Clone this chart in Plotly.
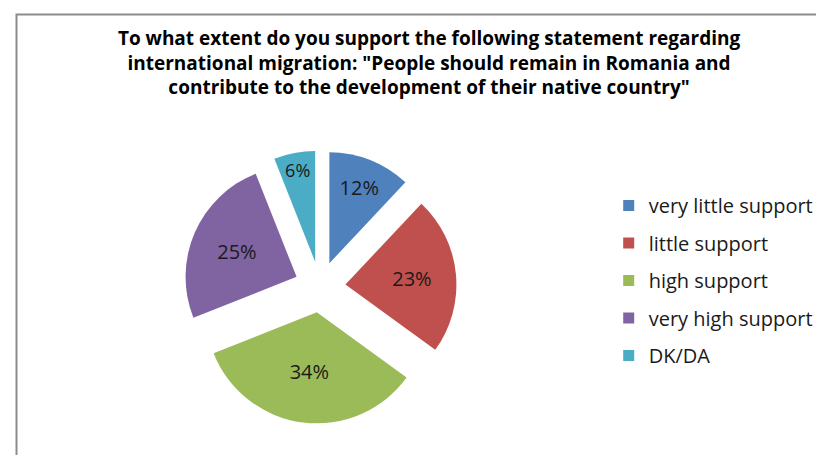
import plotly.graph_objects as go

labels = ["very little support", "little support", "high support", "very high support", "DK/DA"]
values = [12, 23, 34, 25, 6]
colors = ["#4F81BD", "#C0504D", "#9BBB59", "#8064A2", "#4BACC6"]
title_lines = [
    "To what extent do you support the following statement regarding",
    "international migration: \"People should remain in Romania and",
    "contribute to the development of their native country\"",
]

W, H = 824, 455
cx, cy, r, pull = 312, 279, 111, 0.23
half = r * (1 + pull)

fig = go.Figure()
fig.add_trace(go.Pie(
    labels=labels, values=values, sort=False, direction="clockwise", rotation=0,
    marker=dict(colors=colors, line=dict(width=0)),
    pull=[pull] * len(values),
    texttemplate="%{percent:.0%}", textposition="inside",
    insidetextorientation="horizontal",
    textfont=dict(family="Open Sans", size=20, color="#1a1a1a"),
    showlegend=False, hoverinfo="label+percent",
    domain=dict(x=[(cx - half) / W, (cx + half) / W], y=[1 - (cy + half) / H, 1 - (cy - half) / H]),
))
for i, (lab, col) in enumerate(zip(labels, colors)):
    fig.add_trace(go.Scatter(
        x=[None], y=[None], mode="markers", name=lab, legendgroup=str(i),
        marker=dict(symbol="square", size=11, color=col), showlegend=True,
    ))

fig.update_layout(
    width=W, height=H,
    margin=dict(l=0, r=0, t=0, b=0),
    paper_bgcolor="white", plot_bgcolor="white",
    xaxis=dict(visible=False), yaxis=dict(visible=False),
    title=dict(text="<br>".join(title_lines), x=0.511, xanchor="center", y=1 - 37 / H, yanchor="top",
               font=dict(family="Open Sans", size=19, color="#000000", weight="bold")),
    legend=dict(x=0.729, y=1 - 178 / H, xanchor="left", yanchor="top",
                font=dict(family="Open Sans", size=20, color="#1a1a1a"),
                tracegroupgap=8.5, itemwidth=30, bgcolor="rgba(0,0,0,0)"),
    shapes=[dict(type="rect", xref="paper", yref="paper", x0=8.5 / W, x1=1.02, y0=-0.02, y1=1 - 6.5 / H,
                 line=dict(color="#8c8c8c", width=2), fillcolor="rgba(0,0,0,0)", layer="below")],
)
fig.write_html("out.html")
